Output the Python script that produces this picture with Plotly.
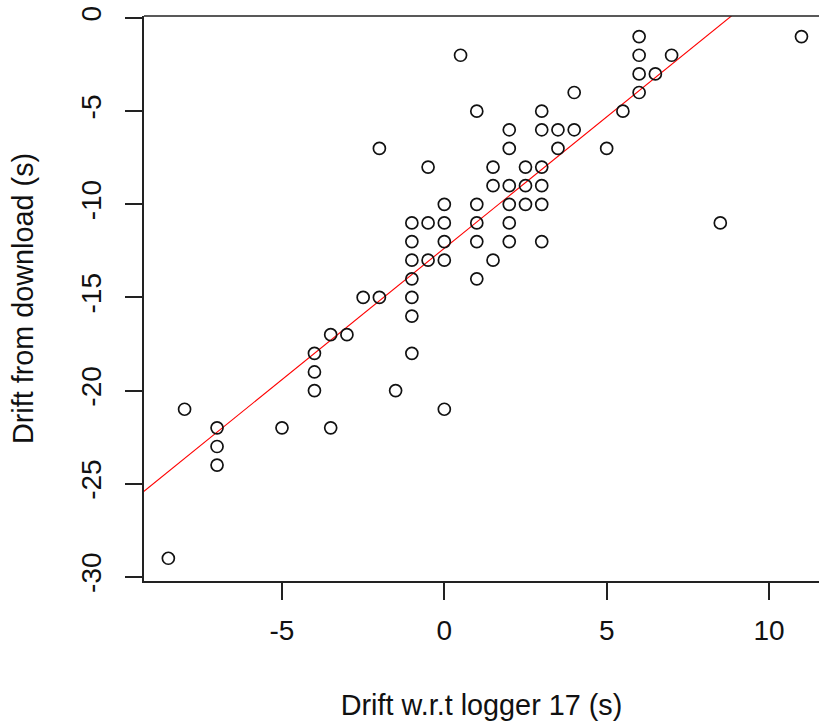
import plotly.graph_objects as go

# Data
drift_logger17 = [0.5, 1, -2, -0.5, 0, 1,
                  -1, -0.5, 0, 1,
                  -1, 0, 1,
                  -1, -0.5, 0,
                  -1, 1,
                  -2.5, -2, -1,
                  -1,
                  -3.5, -3,
                  -4, -1,
                  -4,
                  -4, -1.5,
                  -8, 0,
                  -7, -5, -3.5,
                  -7, -7, -8.5,
                  11, 6, 6, 7, 6, 6.5, 4, 6, 3, 5.5,
                  2, 3, 3.5, 4, 2, 3.5, 5,
                  1.5, 2.5, 3, 1.5, 2, 2.5, 3,
                  2, 2.5, 3, 2, 8.5, 2, 3, 1.5]
drift_download = [-2, -5, -7, -8, -10, -10,
                  -11, -11, -11, -11,
                  -12, -12, -12,
                  -13, -13, -13,
                  -14, -14,
                  -15, -15, -15,
                  -16,
                  -17, -17,
                  -18, -18,
                  -19,
                  -20, -20,
                  -21, -21,
                  -22, -22, -22,
                  -23, -24, -29,
                  -1, -1, -2, -2, -3, -3, -4, -4, -5, -5,
                  -6, -6, -6, -6, -7, -7, -7,
                  -8, -8, -8, -9, -9, -9, -9,
                  -10, -10, -10, -11, -11, -12, -12, -13]

fit_intercept = -12.36
fit_slope = 1.41

x_ticks = [-5, 0, 5, 10]
y_ticks = [0, -5, -10, -15, -20, -25, -30]

x_range = [-9.25, 11.54]
y_range = [-30.22, 0.107]

FONT = "Liberation Sans, Arial, sans-serif"

fig = go.Figure()

line_x = [x_range[0] - 1, x_range[1] + 1]
line_y = [fit_intercept + fit_slope * v for v in line_x]
fig.add_trace(go.Scatter(x=line_x, y=line_y, mode="lines",
                         line=dict(color="#ff0000", width=1.1),
                         showlegend=False, hoverinfo="skip"))

fig.add_trace(go.Scatter(x=drift_logger17, y=drift_download, mode="markers",
                         marker=dict(symbol="circle-open", size=12,
                                     color="#111111", line=dict(width=1.7)),
                         showlegend=False))

fig.add_shape(type="line", xref="paper", yref="paper", x0=0, x1=1, y0=1, y1=1,
              line=dict(color="#222222", width=1.5))

fig.update_layout(
    width=819, height=722,
    margin=dict(l=144, r=0, t=16, b=141),
    plot_bgcolor="white", paper_bgcolor="white",
    font=dict(family=FONT, size=28, color="#111111"),
    xaxis=dict(range=x_range, tickvals=x_ticks, ticktext=[str(v) for v in x_ticks],
               showgrid=False, zeroline=False, showline=True, linecolor="#222222",
               linewidth=1.5, ticks="outside", ticklen=17, tickwidth=1.5,
               tickcolor="#222222", ticklabelstandoff=7,
               title=dict(text="Drift w.r.t logger 17 (s)", standoff=49,
                          font=dict(size=28.8))),
    yaxis=dict(range=y_range, tickvals=y_ticks, ticktext=[str(v) for v in y_ticks],
               tickangle=-90,
               showgrid=False, zeroline=False, showline=True, linecolor="#222222",
               linewidth=1.5, ticks="outside", ticklen=17, tickwidth=1.5,
               tickcolor="#222222", ticklabelstandoff=13,
               title=dict(text="Drift from download (s)", standoff=34,
                          font=dict(size=28.8))),
)

fig.write_html("out.html")
